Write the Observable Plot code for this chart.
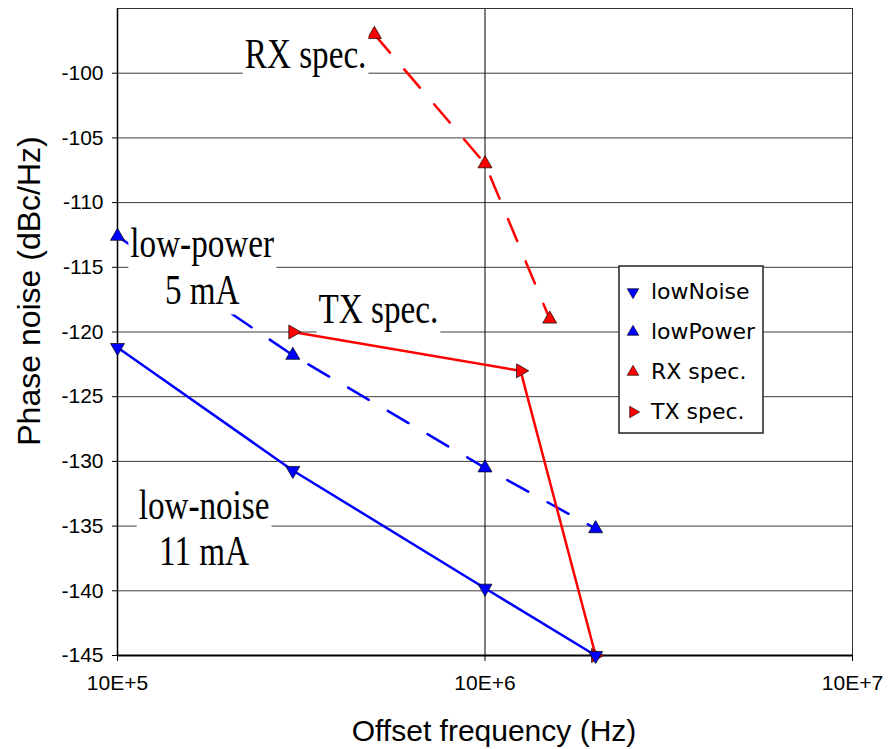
<!DOCTYPE html>
<html>
<head>
<meta charset="utf-8">
<script src="https://cdn.jsdelivr.net/npm/d3@7"></script>
<script src="https://cdn.jsdelivr.net/npm/@observablehq/plot@0.6"></script>
<style>
  body { margin: 0; background: #fff; }
  #chart { width: 888px; height: 749px; }
</style>
</head>
<body>
<div id="chart"></div>
<script>
// Phase noise (dBc/Hz) against offset frequency (Hz) for each series
const lowNoiseFreq = [1e5, 3e5, 1e6, 2e6];
const lowNoisePN   = [-121.2, -130.7, -139.8, -145];
const lowPowerFreq = [1e5, 3e5, 1e6, 2e6];
const lowPowerPN   = [-112.6, -121.8, -130.5, -135.2];
const rxSpecFreq   = [5e5, 1e6, 1.5e6];
const rxSpecPN     = [-97, -107, -119];
const txSpecFreq   = [3e5, 1.25e6, 2e6];
const txSpecPN     = [-120, -123, -145];

const seriesNames = ["lowNoise", "lowPower", "RX spec.", "TX spec."];

// Axis ticks
const xTicks = [1e5, 1e6, 1e7];
const xTickLabels = ["10E+5", "10E+6", "10E+7"];
const yTicks = [-145, -140, -135, -130, -125, -120, -115, -110, -105, -100];

// In-plot notes
const noteText = ["RX spec.", "low-power\n5 mA", "TX spec.", "low-noise\n11 mA"];
const noteFreq = [3.25e5, 1.70e5, 5.13e5, 1.72e5];
const notePN   = [-99.6, -117.8, -119.3, -138.0];

const toRows = (fx, fy) => fx.map((f, i) => ({f, pn: fy[i]}));
const lowNoise = toRows(lowNoiseFreq, lowNoisePN);
const lowPower = toRows(lowPowerFreq, lowPowerPN);
const rxSpec = toRows(rxSpecFreq, rxSpecPN);
const txSpec = toRows(txSpecFreq, txSpecPN);
const notes = noteText.map((t, i) => ({t, f: noteFreq[i], pn: notePN[i]}));

// Triangle symbols pointing up, down or right (angle in degrees, clockwise)
const SQRT3 = Math.sqrt(3);
function triangle(angle) {
  const a = angle * Math.PI / 180, c = Math.cos(a), s = Math.sin(a);
  return {
    draw(ctx, size) {
      const r = Math.sqrt(size / (SQRT3 * 3));
      const pts = [[0, -2 * r], [-SQRT3 * r, r], [SQRT3 * r, r]]
        .map(([x, y]) => [x * c - y * s, x * s + y * c]);
      ctx.moveTo(pts[0][0], pts[0][1]);
      ctx.lineTo(pts[1][0], pts[1][1]);
      ctx.lineTo(pts[2][0], pts[2][1]);
      ctx.closePath();
    }
  };
}
const triUp = triangle(0), triDown = triangle(180), triRight = triangle(90);

const BLUE = "#0000ff", RED = "#ff0000";
const seriesStyle = [
  {color: BLUE, symbol: triDown},
  {color: BLUE, symbol: triUp},
  {color: RED, symbol: triUp},
  {color: RED, symbol: triRight}
];

const dotOpts = (color, symbol) => ({x: "f", y: "pn", symbol, r: 5.2, fill: color, stroke: "#000", strokeWidth: 0.7});
const dash = "24,22";
const SERIF = "'Liberation Serif', 'Times New Roman', serif";

const plot = Plot.plot({
  width: 888,
  height: 749,
  marginLeft: 117,
  marginRight: 36,
  marginTop: 8,
  marginBottom: 94,
  style: {fontFamily: "'Liberation Sans', Arial, sans-serif", fontSize: "21px", color: "#000", background: "#fff"},
  x: {type: "log", domain: [1e5, 1e7]},
  y: {domain: [-145, -95]},
  marks: [
    Plot.gridY(yTicks, {stroke: "#3c3c3c", strokeOpacity: 1, strokeWidth: 1}),
    Plot.gridX([1e6], {stroke: "#000", strokeOpacity: 1, strokeWidth: 1}),
    Plot.frame({stroke: "#333", strokeWidth: 1}),
    Plot.ruleX([1e5], {stroke: "#000", strokeWidth: 1.5}),
    Plot.ruleY([-145], {stroke: "#000", strokeWidth: 2}),
    Plot.axisY(yTicks, {tickSize: 5, tickPadding: 9, label: null, stroke: "#000",
      tickFormat: d => String(d)}),
    Plot.axisX(xTicks, {tickSize: 6, tickPadding: 14, label: null, stroke: "#000",
      tickFormat: d => xTickLabels[xTicks.indexOf(d)]}),

    Plot.line(lowNoise, {x: "f", y: "pn", stroke: BLUE, strokeWidth: 2.5}),
    Plot.line(lowPower, {x: "f", y: "pn", stroke: BLUE, strokeWidth: 2.5, strokeDasharray: dash}),
    Plot.line(rxSpec, {x: "f", y: "pn", stroke: RED, strokeWidth: 2.5, strokeDasharray: dash}),
    Plot.line(txSpec, {x: "f", y: "pn", stroke: RED, strokeWidth: 2.5}),

    Plot.dot(txSpec, dotOpts(RED, triRight)),
    Plot.dot(rxSpec, dotOpts(RED, triUp)),
    Plot.dot(lowPower, dotOpts(BLUE, triUp)),
    Plot.dot(lowNoise, dotOpts(BLUE, triDown)),

    Plot.text(notes, {x: "f", y: "pn", text: "t",
      fontFamily: SERIF, fontSize: 42,
      lineHeight: 1.1, lineAnchor: "bottom", textAnchor: "middle", fill: "#000"}),

    // axis titles
    Plot.text(["Phase noise (dBc/Hz)"], {frameAnchor: "left", rotate: -90, dx: -88, dy: -41,
      textAnchor: "middle", lineAnchor: "middle", fontSize: 32, fill: "#000"}),
    Plot.text(["Offset frequency (Hz)"], {frameAnchor: "bottom", dx: 9, dy: 85,
      textAnchor: "middle", lineAnchor: "bottom", fontSize: 30, fill: "#000"})
  ]
});

document.getElementById("chart").append(plot);

// Narrow the serif note lettering and put a white box behind each note
const SVGNS = "http://www.w3.org/2000/svg";
const noteKeys = new Set(noteText.map(t => t.replace(/\n/g, "")));
const noteTexts = Array.from(plot.querySelectorAll("text"))
  .filter(el => noteKeys.has(el.textContent));
noteTexts.forEach(el => {
  const b = el.getBBox();
  const cx = b.x + b.width / 2;
  const t = el.getAttribute("transform") || "";
  el.setAttribute("transform", `${t} translate(${cx},0) scale(0.79,1) translate(${-cx},0)`);
});
if (noteTexts.length) {
  const noteGroup = noteTexts[0].parentNode;
  const sb = plot.getBoundingClientRect();
  const boxes = document.createElementNS(SVGNS, "g");
  noteTexts.forEach(el => {
    const r = el.getBoundingClientRect();
    const rect = document.createElementNS(SVGNS, "rect");
    rect.setAttribute("x", r.left - sb.left - 2);
    rect.setAttribute("y", r.top - sb.top - 2);
    rect.setAttribute("width", r.width + 4);
    rect.setAttribute("height", r.height + 4);
    rect.setAttribute("fill", "#fff");
    boxes.append(rect);
  });
  noteGroup.parentNode.insertBefore(boxes, noteGroup);
}

// Legend box inside the plot area
const legend = d3.select(plot).append("g").attr("transform", "translate(619,266)");
legend.append("rect")
  .attr("width", 144).attr("height", 167)
  .attr("fill", "#fff").attr("stroke", "#222").attr("stroke-width", 1.5);
seriesNames.forEach((name, i) => {
  const row = legend.append("g").attr("transform", `translate(0,${33 + 40 * i})`);
  row.append("path")
    .attr("transform", "translate(14,-7)")
    .attr("d", d3.symbol(seriesStyle[i].symbol, 58)())
    .attr("fill", seriesStyle[i].color)
    .attr("stroke", "#000").attr("stroke-width", 0.6);
  row.append("text")
    .attr("x", 32)
    .attr("text-anchor", "start")
    .attr("font-family", "'DejaVu Sans', Verdana, sans-serif")
    .attr("font-size", 22)
    .attr("fill", "#000")
    .text(name);
});
</script>
</body>
</html>
